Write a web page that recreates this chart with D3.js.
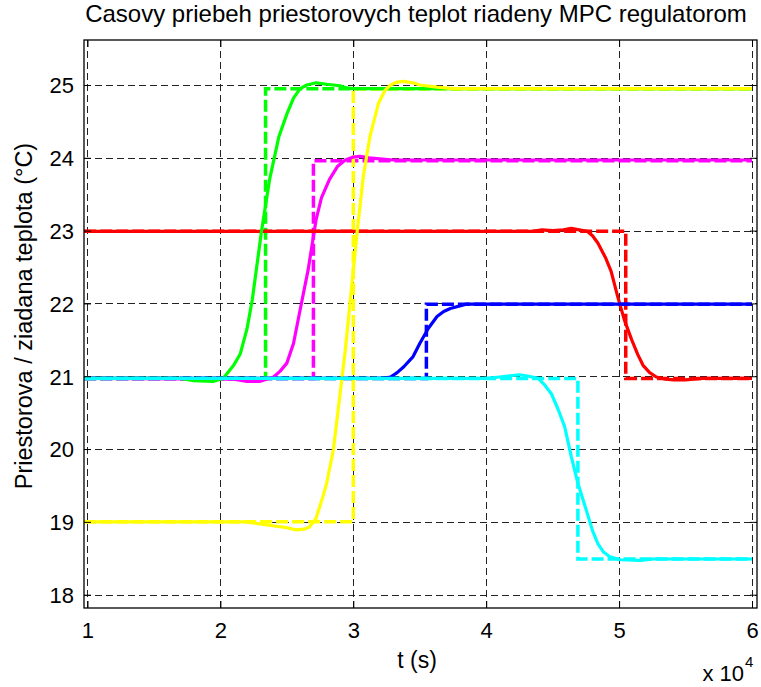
<!DOCTYPE html>
<html>
<head>
<meta charset="utf-8">
<script src="https://cdn.jsdelivr.net/npm/d3@7"></script>
<style>
  html, body { margin: 0; padding: 0; background: #fff; }
  svg { display: block; }
  text { font-family: "Liberation Sans", Arial, Helvetica, sans-serif; fill: #000; }
</style>
</head>
<body>
<svg id="chart" width="761" height="687"></svg>
<script>
// ---- Data (time in units of 1e4 s, temperature in °C) ----
const xTicks = [1, 2, 3, 4, 5, 6];
const yTicks = [18, 19, 20, 21, 22, 23, 24, 25];
const title = "Casovy priebeh priestorovych teplot riadeny MPC regulatorom";
const xLabel = "t (s)";
const yLabel = "Priestorova / ziadana teplota (°C)";

// measured room temperatures (solid)
const greenT  = [0.975,1.70,1.80,1.95,2.02,2.10,2.15,2.20,2.24,2.31,2.37,2.44,2.50,2.55,2.60,2.65,2.72,2.80,2.90,2.95,3.00,6.0];
const greenV  = [20.97,20.97,20.94,20.93,20.97,21.15,21.31,21.65,22.05,23.0,23.7,24.29,24.6,24.82,24.95,25.0,25.03,25.01,24.99,24.96,24.95,24.95];
const magT    = [0.975,2.10,2.20,2.30,2.40,2.45,2.50,2.55,2.59,2.66,2.72,2.76,2.82,2.88,2.94,3.00,3.05,3.12,3.18,3.30,6.0];
const magV    = [20.97,20.96,20.93,20.93,20.99,21.07,21.18,21.45,21.82,22.46,23.15,23.45,23.70,23.88,23.97,24.01,24.02,24.0,23.99,23.97,23.97];
const yelT    = [0.975,2.20,2.27,2.42,2.50,2.57,2.63,2.67,2.72,2.77,2.80,2.85,2.90,2.94,2.975,3.03,3.075,3.125,3.19,3.24,3.28,3.33,3.38,3.45,3.50,3.63,3.75,6.0];
const yelV    = [19.0,19.0,18.98,18.94,18.92,18.89,18.90,18.93,19.05,19.34,19.53,19.99,20.75,21.36,22.0,23.0,23.74,24.29,24.75,24.93,25.0,25.04,25.05,25.03,25.0,24.97,24.95,24.95];
const redT    = [0.975,4.35,4.42,4.50,4.58,4.64,4.70,4.76,4.80,4.84,4.90,4.94,4.99,5.04,5.095,5.14,5.18,5.23,5.28,5.35,5.41,5.50,5.56,5.63,6.0];
const redV    = [22.99,22.99,23.01,23.0,23.01,23.03,23.01,22.99,22.93,22.83,22.62,22.44,22.09,21.77,21.50,21.30,21.15,21.05,20.99,20.96,20.95,20.95,20.96,20.97,20.97];
const blueT   = [0.975,3.22,3.28,3.33,3.38,3.45,3.50,3.565,3.63,3.68,3.73,3.85,6.0];
const blueV   = [20.97,20.97,20.99,21.05,21.13,21.27,21.45,21.66,21.82,21.89,21.93,21.99,21.99];
const cyanT   = [0.975,4.0,4.10,4.20,4.25,4.32,4.39,4.44,4.49,4.54,4.59,4.64,4.69,4.76,4.80,4.84,4.88,4.93,5.01,5.16,5.26,6.0];
const cyanV   = [20.97,20.97,20.99,21.01,21.02,21.0,20.97,20.88,20.76,20.55,20.31,19.9,19.53,19.12,18.88,18.70,18.59,18.52,18.48,18.47,18.49,18.49];

// reference (setpoint) temperatures (dashed step signals)
const greenSpT = [0.975,2.34,2.34,6.0];
const greenSpV = [20.97,20.97,24.95,24.95];
const magSpT   = [0.975,2.70,2.70,6.0];
const magSpV   = [20.97,20.97,23.96,23.96];
const yelSpT   = [0.975,3.0,3.0,6.0];
const yelSpV   = [19.0,19.0,24.95,24.95];
const redSpT   = [0.975,5.05,5.05,6.0];
const redSpV   = [22.99,22.99,20.97,20.97];
const blueSpT  = [0.975,3.55,3.55,6.0];
const blueSpV  = [20.97,20.97,21.99,21.99];
const cyanSpT  = [0.975,4.69,4.69,6.0];
const cyanSpV  = [20.97,20.97,18.49,18.49];

const zip = (t, v) => t.map((d, i) => [d, v[i]]);

const setpoints = [
  {color: "#00ff00", data: zip(greenSpT, greenSpV)},
  {color: "#ff00ff", data: zip(magSpT, magSpV)},
  {color: "#ffff00", data: zip(yelSpT, yelSpV)},
  {color: "#ff0000", data: zip(redSpT, redSpV)},
  {color: "#0000ff", data: zip(blueSpT, blueSpV)},
  {color: "#00ffff", data: zip(cyanSpT, cyanSpV)}
];
const measured = [
  {color: "#ff00ff", data: zip(magT, magV)},
  {color: "#ff0000", data: zip(redT, redV)},
  {color: "#00ff00", data: zip(greenT, greenV)},
  {color: "#ffff00", data: zip(yelT, yelV)},
  {color: "#0000ff", data: zip(blueT, blueV)},
  {color: "#00ffff", data: zip(cyanT, cyanV)}
];

// ---- Layout ----
const svg = d3.select("#chart");
const L = 84, R = 757, T = 40, B = 608;
const x = d3.scaleLinear().domain([0.9737, 6.0376]).range([L, R]);
const y = d3.scaleLinear().domain([17.817, 25.618]).range([B, T]);

svg.append("defs").append("clipPath").attr("id", "clip")
  .append("rect").attr("x", L).attr("y", T).attr("width", R - L).attr("height", B - T);

// grid
const grid = svg.append("g").attr("stroke", "#222").attr("stroke-width", 1)
  .attr("stroke-dasharray", "7,4").attr("fill", "none");
xTicks.forEach(t => {
  const px = Math.round(x(t)) + 0.5;
  grid.append("line").attr("x1", px).attr("x2", px).attr("y1", T).attr("y2", B);
});
yTicks.forEach(v => {
  const py = Math.round(y(v)) + 0.5;
  grid.append("line").attr("x1", L).attr("x2", R).attr("y1", py).attr("y2", py);
});

// lines
const line = d3.line().x(d => x(d[0])).y(d => y(d[1]));
const plot = svg.append("g").attr("clip-path", "url(#clip)");
setpoints.forEach(s => {
  plot.append("path").attr("d", line(s.data)).attr("fill", "none")
    .attr("stroke", s.color).attr("stroke-width", 3.5)
    .attr("stroke-dasharray", "12,4");
});
measured.forEach(s => {
  plot.append("path").attr("d", line(s.data)).attr("fill", "none")
    .attr("stroke", s.color).attr("stroke-width", 3.2)
    .attr("stroke-linejoin", "round");
});

// axes (ticks inward on all sides)
const tickLen = 7;
const fmtX = d => d3.format("d")(d);
const axB = svg.append("g").attr("transform", `translate(0,${B})`)
  .call(d3.axisBottom(x).tickValues(xTicks).tickSize(-tickLen).tickPadding(14).tickFormat(fmtX));
const axT = svg.append("g").attr("transform", `translate(0,${T})`)
  .call(d3.axisTop(x).tickValues(xTicks).tickSize(-tickLen).tickFormat(""));
const axL = svg.append("g").attr("transform", `translate(${L},0)`)
  .call(d3.axisLeft(y).tickValues(yTicks).tickSize(-tickLen).tickPadding(10).tickFormat(d3.format("d")));
const axRt = svg.append("g").attr("transform", `translate(${R},0)`)
  .call(d3.axisRight(y).tickValues(yTicks).tickSize(-tickLen).tickFormat(""));
[axB, axT, axL, axRt].forEach(a => {
  a.select(".domain").remove();
  a.selectAll(".tick line").attr("stroke", "#000").attr("stroke-width", 1);
  a.selectAll("text").style("font-size", "22px").style("font-family", "'Liberation Sans', Arial, sans-serif").attr("fill", "#000");
});
axB.selectAll("text").attr("dy", "0.71em");
axL.selectAll("text").attr("dy", "0.36em");

// box
svg.append("rect").attr("x", L).attr("y", T).attr("width", R - L).attr("height", B - T)
  .attr("fill", "none").attr("stroke", "#000").attr("stroke-width", 1.3);

// titles
svg.append("text").attr("x", 416).attr("y", 22).attr("text-anchor", "middle")
  .style("font-size", "24px").text(title);
svg.append("text").attr("x", 417).attr("y", 668).attr("text-anchor", "middle")
  .style("font-size", "23px").text(xLabel);
svg.append("text").attr("transform", "translate(32,316) rotate(-90)").attr("text-anchor", "middle")
  .style("font-size", "23.5px").text(yLabel);
svg.append("text").attr("x", 744).attr("y", 681).attr("text-anchor", "end")
  .style("font-size", "22px").text("x 10");
svg.append("text").attr("x", 745).attr("y", 667).style("font-size", "15px").text("4");
</script>
</body>
</html>
